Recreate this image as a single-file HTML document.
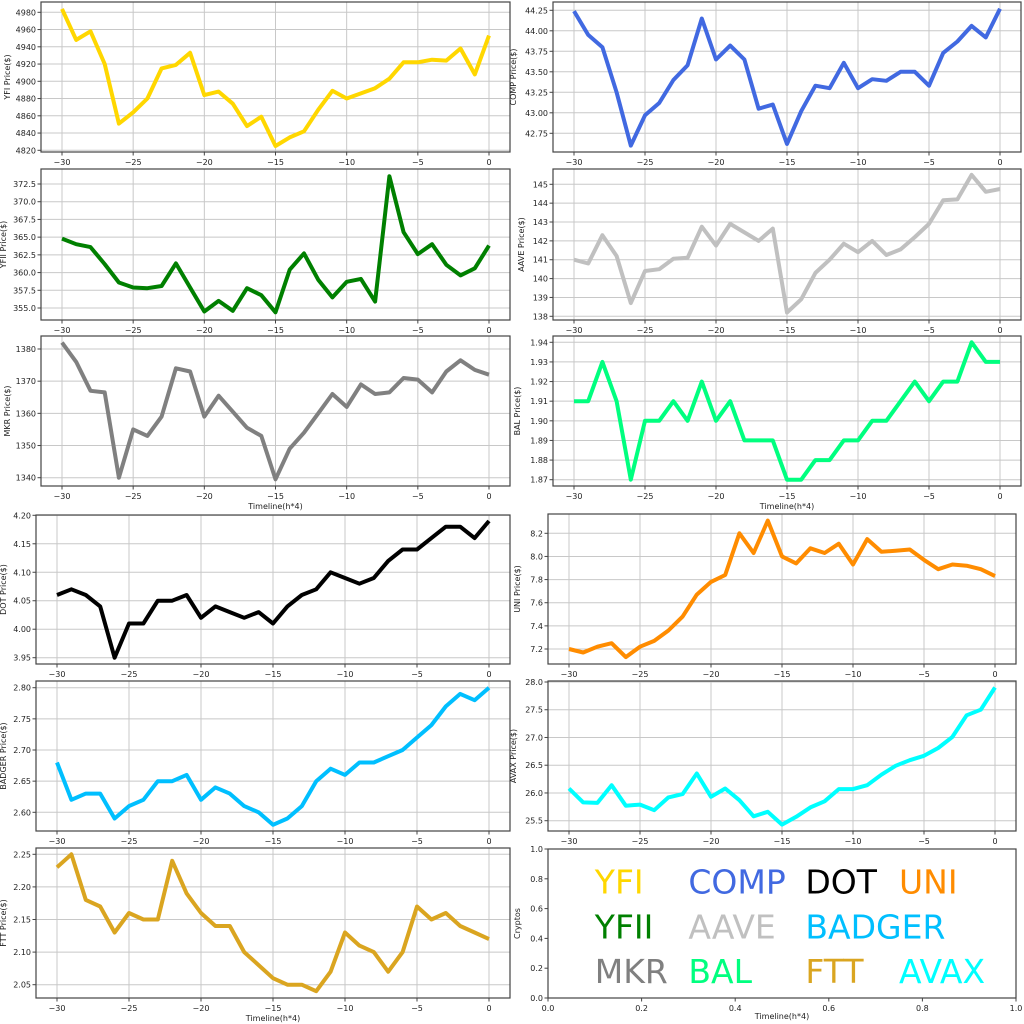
<!DOCTYPE html>
<html><head><meta charset="utf-8">
<style>
html,body{margin:0;padding:0;background:#fff;}
svg{display:block;}
text{font-family:"DejaVu Sans","Liberation Sans",sans-serif;fill:#222;}
</style></head>
<body>
<svg id="s" width="1024" height="1024" xmlns="http://www.w3.org/2000/svg"></svg>
<script>
const S=document.getElementById('s');
const NS='http://www.w3.org/2000/svg';
function el(t,a,txt){const e=document.createElementNS(NS,t);for(const k in a)e.setAttribute(k,a[k]);if(txt!==undefined)e.textContent=txt;S.appendChild(e);return e;}
function panel(p){
 const {L,R,T,B,x30,x0,v1,y1,v2,y2,ticks,dec,data,color,label,lx,xlabel}=p;
 const sx=x=>x30+(x+30)*(x0-x30)/30;
 const sy=v=>y1+(v-v1)*(y2-y1)/(v2-v1);
 for(let x=-30;x<=0;x+=5){const X=sx(x);el('line',{x1:X,x2:X,y1:T,y2:B,stroke:'#c8c8c8','stroke-width':1});}
 ticks.forEach(v=>{const Y=sy(v);el('line',{x1:L,x2:R,y1:Y,y2:Y,stroke:'#c8c8c8','stroke-width':1});});
 let d='';data.forEach((v,i)=>{d+=(i?'L':'M')+sx(i-30).toFixed(1)+' '+sy(v).toFixed(1);});
 el('path',{d:d,fill:'none',stroke:color,'stroke-width':4,'stroke-linejoin':'round'});
 el('rect',{x:L,y:T,width:R-L,height:B-T,fill:'none',stroke:'#444','stroke-width':1.2});
 for(let x=-30;x<=0;x+=5){const X=sx(x);el('line',{x1:X,x2:X,y1:B,y2:B+3.5,stroke:'#444'});el('text',{x:X,y:B+13,'font-size':8,'text-anchor':'middle'},(x<0?'\u2212':'')+Math.abs(x));}
 ticks.forEach(v=>{const Y=sy(v);el('line',{x1:L-3.5,x2:L,y1:Y,y2:Y,stroke:'#444'});el('text',{x:L-5,y:Y+3,'font-size':8,'text-anchor':'end'},v.toFixed(dec));});
 el('text',{x:lx,y:(T+B)/2,'font-size':8,'text-anchor':'middle',transform:`rotate(-90 ${lx} ${(T+B)/2})`},label);
 if(xlabel)el('text',{x:(L+R)/2,y:B+23,'font-size':8,'text-anchor':'middle'},'Timeline(h*4)');
}
function rng(a,b,s){const r=[];for(let v=a;v<=b+1e-9;v+=s)r.push(+v.toFixed(4));return r;}
const Lt={L:41,R:510,x30:62,x0:489};
const Rt={L:553,R:1021,x30:574,x0:1000};
const Lb={L:36,R:510,x30:57,x0:489};
const Rb={L:548,R:1016,x30:569,x0:995};
panel({...Lt,T:2,B:152,v1:4980,y1:12.3,v2:4820,y2:150.3,ticks:rng(4820,4980,20),dec:0,color:'#FFD700',label:'YFI Price($)',lx:10,
data:[4984,4948,4958,4920,4851,4864,4880,4915,4919,4933,4884,4888,4874,4848,4859,4825,4835,4842,4867,4889,4880,4886,4892,4903,4922,4922,4925,4924,4938,4908,4953]});
panel({...Lt,T:169,B:320,v1:372.5,y1:184,v2:355,y2:308,ticks:rng(355,372.5,2.5),dec:1,color:'#008000',label:'YFII Price($)',lx:6,
data:[364.8,364.0,363.6,361.2,358.6,357.9,357.8,358.1,361.3,357.9,354.5,356.0,354.6,357.8,356.8,354.4,360.4,362.7,359.0,356.5,358.7,359.1,355.9,373.6,365.7,362.6,364.0,361.1,359.6,360.6,363.8]});
panel({...Lt,T:336,B:486,v1:1380,y1:349,v2:1340,y2:477.7,ticks:rng(1340,1380,10),dec:0,color:'#808080',label:'MKR Price($)',lx:10,xlabel:1,
data:[1382,1376,1367,1366.5,1340,1355,1353,1359,1374,1373,1359,1365.5,1360.5,1355.5,1353,1339.5,1349,1354,1360,1366,1362,1369,1366,1366.5,1371,1370.5,1366.5,1373,1376.5,1373.5,1372]});
panel({...Rt,T:2,B:152,v1:44.25,y1:10.3,v2:42.75,y2:133.3,ticks:rng(42.75,44.25,0.25),dec:2,color:'#4169E1',label:'COMP Price($)',lx:516,
data:[44.24,43.95,43.80,43.25,42.60,42.97,43.12,43.40,43.58,44.15,43.65,43.82,43.65,43.05,43.10,42.62,43.02,43.33,43.30,43.61,43.30,43.41,43.39,43.50,43.50,43.33,43.73,43.87,44.06,43.92,44.27]});
panel({...Rt,T:169,B:320,v1:145,y1:184.3,v2:138,y2:316.3,ticks:rng(138,145,1),dec:0,color:'#C0C0C0',label:'AAVE Price($)',lx:524,
data:[141.0,140.8,142.3,141.2,138.7,140.4,140.5,141.05,141.1,142.75,141.75,142.9,142.45,142.0,142.65,138.2,138.9,140.3,141.0,141.85,141.4,142.0,141.25,141.55,142.2,142.9,144.15,144.2,145.5,144.6,144.75]});
panel({...Rt,T:336,B:486,v1:1.94,y1:342.3,v2:1.87,y2:479.7,ticks:rng(1.87,1.94,0.01),dec:2,color:'#00FF7F',label:'BAL Price($)',lx:520,xlabel:1,
data:[1.91,1.91,1.93,1.91,1.87,1.90,1.90,1.91,1.90,1.92,1.90,1.91,1.89,1.89,1.89,1.87,1.87,1.88,1.88,1.89,1.89,1.90,1.90,1.91,1.92,1.91,1.92,1.92,1.94,1.93,1.93]});
panel({...Lb,T:515,B:664,v1:4.20,y1:515.3,v2:3.95,y2:657.7,ticks:rng(3.95,4.20,0.05),dec:2,color:'#000000',label:'DOT Price($)',lx:6,
data:[4.06,4.07,4.06,4.04,3.95,4.01,4.01,4.05,4.05,4.06,4.02,4.04,4.03,4.02,4.03,4.01,4.04,4.06,4.07,4.10,4.09,4.08,4.09,4.12,4.14,4.14,4.16,4.18,4.18,4.16,4.19]});
panel({...Lb,T:681,B:831,v1:2.80,y1:687.7,v2:2.60,y2:812.3,ticks:rng(2.60,2.80,0.05),dec:2,color:'#00BFFF',label:'BADGER Price($)',lx:6,
data:[2.68,2.62,2.63,2.63,2.59,2.61,2.62,2.65,2.65,2.66,2.62,2.64,2.63,2.61,2.60,2.58,2.59,2.61,2.65,2.67,2.66,2.68,2.68,2.69,2.70,2.72,2.74,2.77,2.79,2.78,2.80]});
panel({...Lb,T:848,B:998,v1:2.25,y1:854.3,v2:2.05,y2:984.7,ticks:rng(2.05,2.25,0.05),dec:2,color:'#DAA520',label:'FTT Price($)',lx:6,xlabel:1,
data:[2.23,2.25,2.18,2.17,2.13,2.16,2.15,2.15,2.24,2.19,2.16,2.14,2.14,2.10,2.08,2.06,2.05,2.05,2.04,2.07,2.13,2.11,2.10,2.07,2.10,2.17,2.15,2.16,2.14,2.13,2.12]});
panel({...Rb,T:514,B:664,v1:8.2,y1:533.3,v2:7.2,y2:649,ticks:rng(7.2,8.2,0.2),dec:1,color:'#FF8C00',label:'UNI Price($)',lx:520,
data:[7.20,7.17,7.22,7.25,7.13,7.22,7.27,7.36,7.48,7.67,7.78,7.84,8.20,8.03,8.31,8.00,7.94,8.07,8.03,8.11,7.93,8.15,8.04,8.05,8.06,7.97,7.89,7.93,7.92,7.89,7.83]});
panel({...Rb,T:681,B:831,v1:28.0,y1:682,v2:25.5,y2:820.7,ticks:rng(25.5,28.0,0.5),dec:1,color:'#00FFFF',label:'AVAX Price($)',lx:516,
data:[26.08,25.83,25.82,26.14,25.77,25.79,25.69,25.92,25.98,26.35,25.93,26.08,25.87,25.58,25.66,25.43,25.57,25.74,25.85,26.07,26.07,26.14,26.33,26.49,26.59,26.67,26.81,27.01,27.40,27.50,27.90]});
(function(){
 const L=548,R=1016,T=849,B=998;
 const sx=x=>L+x*(R-L), sy=y=>B-y*(B-T);
 el('rect',{x:L,y:T,width:R-L,height:B-T,fill:'none',stroke:'#444','stroke-width':1.2});
 for(let i=0;i<=5;i++){const v=i*0.2;const X=sx(v),Y=sy(v);
  el('line',{x1:X,x2:X,y1:B,y2:B+3.5,stroke:'#444'});el('text',{x:X,y:B+13,'font-size':8,'text-anchor':'middle'},v.toFixed(1));
  el('line',{x1:L-3.5,x2:L,y1:Y,y2:Y,stroke:'#444'});el('text',{x:L-5,y:Y+3,'font-size':8,'text-anchor':'end'},v.toFixed(1));}
 el('text',{x:520,y:(T+B)/2,'font-size':8,'text-anchor':'middle',transform:`rotate(-90 520 ${(T+B)/2})`},'Cryptos');
 el('text',{x:(L+R)/2,y:B+21,'font-size':8,'text-anchor':'middle'},'Timeline(h*4)');
 const items=[['YFI',.1,.7,'#FFD700'],['COMP',.3,.7,'#4169E1'],['DOT',.55,.7,'#000000'],['UNI',.75,.7,'#FF8C00'],
 ['YFII',.1,.4,'#008000'],['AAVE',.3,.4,'#C0C0C0'],['BADGER',.55,.4,'#00BFFF'],
 ['MKR',.1,.1,'#808080'],['BAL',.3,.1,'#00FF7F'],['FTT',.55,.1,'#DAA520'],['AVAX',.75,.1,'#00FFFF']];
 items.forEach(([t,x,y,c])=>{const e=el('text',{x:sx(x),y:sy(y),'font-size':33},t);e.style.fill=c;});
})();
</script>
</body></html>
